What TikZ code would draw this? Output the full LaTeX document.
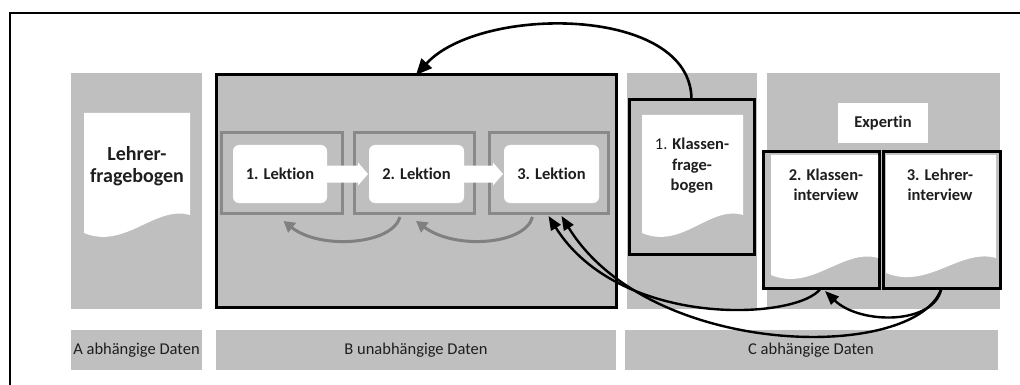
\documentclass[tikz,border=0pt]{standalone}
\usepackage{fontspec}
\setmainfont{Carlito}[Ligatures=NoCommon]
\usetikzlibrary{arrows.meta,calc}

\definecolor{panelgray}{RGB}{191,191,191}
\definecolor{framegray}{RGB}{137,137,137}
\definecolor{arrowgray}{RGB}{128,128,128}
\definecolor{textdark}{RGB}{30,30,30}

\tikzset{
  box/.style={rectangle, inner sep=0pt, outer sep=0pt},
  panel/.style={box, fill=panelgray},
  bframe/.style={box, fill=panelgray, draw=black, line width=3pt},
  lframe/.style={box, fill=panelgray, draw=framegray, line width=3pt},
  whitebox/.style={box, fill=white, rounded corners=6pt},
  boldtext/.style={font=\bfseries\fontsize{16.5}{19}\selectfont, text=textdark},
  doctext/.style={align=center, font=\bfseries\fontsize{16.5}{20.5}\selectfont, text=textdark},
  bigdoctext/.style={align=center, font=\bfseries\fontsize{20}{21.5}\selectfont, text=textdark},
  barlabel/.style={panel, font=\fontsize{16.5}{19}\selectfont, text=textdark},
  docfill/.style={fill=white},
  chevron/.style={fill=white},
  bigarrow/.style={draw=black, line width=2.6pt, -{Triangle[length=16pt,width=14pt]}},
  blackarrow/.style={draw=black, line width=2.4pt, -{Triangle[length=14pt,width=11pt]}},
  grayarrow/.style={draw=arrowgray, line width=3pt, -{Triangle[length=11pt,width=12pt]}},
}

\begin{document}
\begin{tikzpicture}[x=1pt, y=-1pt]
\useasboundingbox (0,0) rectangle (1020,385);

% outer frame (left and top edges)
\draw[line width=2pt] (10,385) -- (10,13) -- (1020,13);

% columns
\node[panel, minimum width=131pt, minimum height=236pt] (pa) at (136.5,191) {};
\node[bframe, minimum width=400pt, minimum height=232pt] (pb) at (416,191) {};
\node[panel, minimum width=130pt, minimum height=236pt] (pc1) at (692,191) {};
\node[panel, minimum width=233pt, minimum height=236pt] (pc2) at (883.5,191) {};

% bottom labels
\node[barlabel, minimum width=131pt, minimum height=40pt] (la) at (136.5,350) {A abhängige Daten};
\node[barlabel, minimum width=400pt, minimum height=40pt] (lb) at (416,350) {B unabhängige Daten};
\node[barlabel, minimum width=373pt, minimum height=40pt] (lc) at (811,350) {C abhängige Daten};

% teacher questionnaire
\fill[docfill] (84,113) -- (190,113) -- (190,215) .. controls (155,205) and (125,250) .. (84,233) -- cycle;
\node[bigdoctext] (ta) at (137,166) {Lehrer-\\fragebogen};

% lessons
\node[lframe, minimum width=121pt, minimum height=80pt] (l1) at (281.5,173) {};
\node[lframe, minimum width=120pt, minimum height=80pt] (l2) at (414,173) {};
\node[lframe, minimum width=119pt, minimum height=80pt] (l3) at (548.5,173) {};

\node[whitebox, minimum width=94pt, minimum height=58pt] (w1) at (280,174) {};
\node[whitebox, minimum width=95pt, minimum height=58pt] (w2) at (416.5,174) {};
\node[whitebox, minimum width=95pt, minimum height=58pt] (w3) at (551.5,174) {};

% process chevrons
\foreach \a/\b in {w1/w2, w2/w3}{
  \fill[chevron] ([yshift=8.5pt]\a.east) -- ([xshift=-11pt,yshift=8.5pt]\b.west)
    -- ([xshift=-11pt,yshift=11.5pt]\b.west) -- ([xshift=-1pt]\b.west)
    -- ([xshift=-11pt,yshift=-11.5pt]\b.west) -- ([xshift=-11pt,yshift=-8.5pt]\b.west)
    -- ([yshift=-8.5pt]\a.east) -- cycle;
}
\node[boldtext] (t1) at (w1) {1. Lektion};
\node[boldtext] (t2) at (w2) {2. Lektion};
\node[boldtext] (t3) at (w3) {3. Lektion};

% feedback between lessons
\draw[grayarrow] ([xshift=-14pt,yshift=-4pt]l2.south) .. controls (392,245) and (320,250) .. ([xshift=2pt,yshift=-8pt]l1.south);
\draw[grayarrow] ([xshift=-16pt,yshift=-4pt]l3.south) .. controls (525,245) and (455,250) .. ([xshift=2pt,yshift=-8pt]l2.south);

% class questionnaire
\node[bframe, minimum width=125pt, minimum height=154pt] (kf) at (691.5,177) {};
\fill[docfill] (642,115) -- (743,115) -- (743,215) .. controls (710,205) and (682,250) .. (642,233) -- cycle;
\node[doctext] (tk) at (692,166) {{\mdseries 1.} Klassen-\\frage-\\bogen};

% expert and interviews
\node[box, fill=white, minimum width=90pt, minimum height=40pt, boldtext] (ex) at (883,123) {Expertin};
\node[bframe, minimum width=116pt, minimum height=136pt] (ki) at (821,220) {};
\node[bframe, minimum width=117pt, minimum height=136pt] (li) at (941.5,220) {};
\fill[docfill] (771,155) -- (878,155) -- (878,258) .. controls (843,248) and (812,292) .. (771,275) -- cycle;
\fill[docfill] (886,155) -- (996,155) -- (996,258) .. controls (960,248) and (928,290) .. (886,273) -- cycle;
\node[doctext] (tki) at (826,185) {2. Klassen-\\interview};
\node[doctext] (tli) at (940,185) {3. Lehrer-\\interview};

% connectors
\draw[bigarrow] (kf.north) .. controls (692,5) and (480,5) .. (pb.north);
\draw[blackarrow] (ki.south) .. controls (800,320) and (620,330) .. ([yshift=-3pt]l3.south);
\draw[blackarrow] (li.south) .. controls (918,362) and (650,360) .. ([xshift=13pt,yshift=-3pt]l3.south);
\draw[blackarrow] (li.south) .. controls (935,325) and (860,325) .. ([xshift=4pt,yshift=-3pt]ki.south);
\end{tikzpicture}
\end{document}
